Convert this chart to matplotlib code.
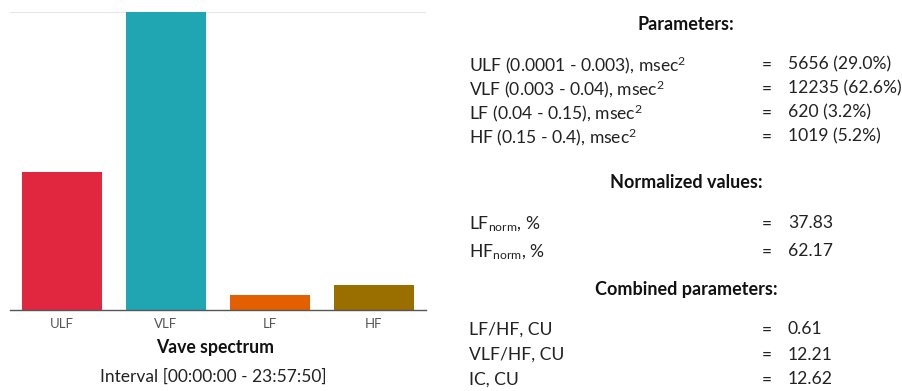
import matplotlib
matplotlib.use('Agg')
from matplotlib import pyplot as plt

plt.rcParams['font.family'] = ['Lato', 'DejaVu Sans']
plt.rcParams['mathtext.fontset'] = 'custom'
plt.rcParams['mathtext.rm'] = 'Lato'
plt.rcParams['mathtext.it'] = 'Lato'

# данные
bands = ['ULF', 'VLF', 'LF', 'HF']
power = [5656, 12235, 620, 1019]
colors = ['#e0273f', '#20a6b3', '#e35f00', '#9a6f00']

param_labels = [r'ULF (0.0001 - 0.003), msec$^{2}$', r'VLF (0.003 - 0.04), msec$^{2}$',
                r'LF (0.04 - 0.15), msec$^{2}$', r'HF (0.15 - 0.4), msec$^{2}$']
param_values = ['5656 (29.0%)', '12235 (62.6%)', '620 (3.2%)', '1019 (5.2%)']
norm_labels = [r'LF$_{\mathrm{norm}}$, %', r'HF$_{\mathrm{norm}}$, %']
norm_values = ['37.83', '62.17']
comb_labels = ['LF/HF, CU', 'VLF/HF, CU', 'IC, CU']
comb_values = ['0.61', '12.21', '12.62']

W, H = 903, 391
fig = plt.figure(figsize=(W / 100, H / 100), dpi=100)

# гистограмма
ax = fig.add_axes([10 / W, 1 - 310 / H, 416 / W, 298 / H])
ax.bar(range(len(bands)), power, width=0.77, color=colors, zorder=2)
ax.set_xlim(-0.5, 3.5)
ax.set_ylim(0, max(power))
ax.axhline(max(power), color='#e6e6e6', lw=0.8, zorder=1)
ax.set_xticks(range(len(bands)))
ax.set_xticklabels(bands, fontsize=9.5, color='#555555')
ax.tick_params(axis='x', length=0, pad=6)
ax.set_yticks([])
for s in ['top', 'left', 'right']:
    ax.spines[s].set_visible(False)
ax.spines['bottom'].set_color('#555555')
ax.spines['bottom'].set_linewidth(1)

fig.text(215 / W, 1 - 348 / H, 'Vave spectrum', ha='center', va='center',
         fontsize=12.7, fontweight='bold', color='#111111')
fig.text(213 / W, 1 - 377 / H, 'Interval [00:00:00 - 23:57:50]', ha='center',
         va='center', fontsize=12.5, color='#222222')

# таблица параметров
xl, xe, xv, xc = 469 / W, 767 / W, 788 / W, 686 / W
fs = 12.6


def head(y, s):
    fig.text(xc, 1 - y / H, s, ha='center', va='center', fontsize=13,
             fontweight='bold', color='#111111')


def rows(ys, labels, values):
    for y, l, v in zip(ys, labels, values):
        fig.text(xl, 1 - y / H, l, ha='left', va='center_baseline', fontsize=fs, color='#222222')
        fig.text(xe, 1 - y / H, '=', ha='center', va='center_baseline', fontsize=fs, color='#222222')
        fig.text(xv, 1 - y / H, v, ha='left', va='center_baseline', fontsize=fs, color='#222222')


head(24, 'Parameters:')
rows([63, 87, 111, 135], param_labels, param_values)
head(182, 'Normalized values:')
rows([222, 250], norm_labels, norm_values)
head(290, 'Combined parameters:')
rows([328, 353, 378], comb_labels, comb_values)

plt.savefig('out.png', dpi=100)
